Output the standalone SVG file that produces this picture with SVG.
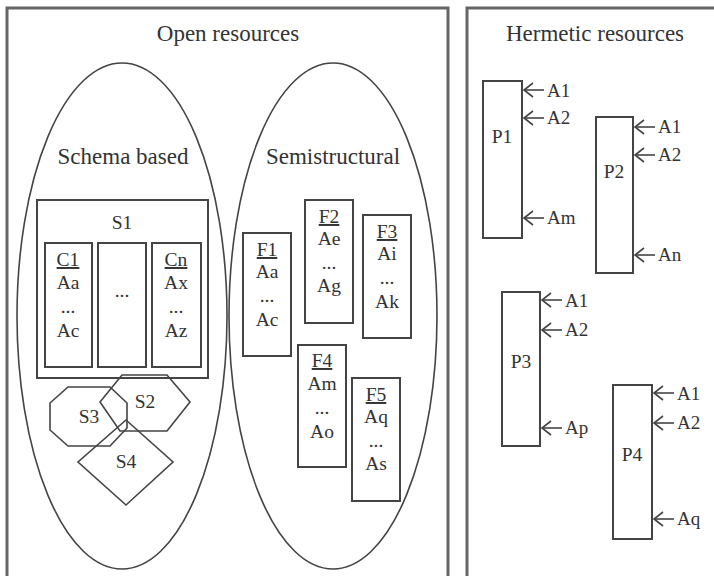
<svg xmlns="http://www.w3.org/2000/svg" width="714" height="576" viewBox="0 0 714 576">
  <defs>
    <style>
      text { font-family: "Liberation Serif", "Times New Roman", serif; fill: #333; text-anchor: middle; }
      .title { font-size: 23px; }
      .lbl { font-size: 19.5px; }
      .att { font-size: 19px; text-anchor: start; }
      .u { text-decoration: underline; }
      .frame { fill: none; stroke: #666; stroke-width: 3; }
      .ell { fill: none; stroke: #444; stroke-width: 1.6; }
      .box { fill: #fff; stroke: #444; stroke-width: 2; }
      .shape { fill: none; stroke: #444; stroke-width: 1.6; }
      .arr { fill: none; stroke: #444; stroke-width: 1.6; }
    </style>
    <!-- open chevron at the start of each attribute arrow -->
    <marker id="chev" viewBox="0 0 12 16" refX="1" refY="8" markerWidth="12" markerHeight="16" markerUnits="userSpaceOnUse" orient="auto">
      <path d="M10,1 L1,8 L10,15" fill="none" stroke="#444" stroke-width="1.6"/>
    </marker>
  </defs>

  <rect width="714" height="576" fill="#fff"/>

  <!-- Open resources panel -->
  <g id="open-resources">
    <path class="frame" d="M7,580 V8 H448 V580"/>
    <text class="title" x="228" y="41">Open resources</text>
  </g>

  <!-- Schema based region -->
  <g id="schema-based">
    <ellipse class="ell" cx="122" cy="316" rx="105" ry="253"/>
    <text class="title" x="123" y="164">Schema based</text>
  </g>

  <g id="S1">
    <rect class="box" x="37" y="200" width="171" height="178"/>
    <text class="lbl" x="122" y="229">S1</text>
  </g>
  <g id="C1">
    <rect class="box" x="45" y="243" width="47" height="124"/>
    <text class="lbl u" x="68" y="266">C1</text>
    <text class="lbl" x="68" y="289">Aa</text>
    <text class="lbl" x="68" y="313">...</text>
    <text class="lbl" x="68" y="337">Ac</text>
  </g>
  <g id="C-mid">
    <rect class="box" x="98" y="243" width="48" height="124"/>
    <text class="lbl" x="122" y="297">...</text>
  </g>
  <g id="Cn">
    <rect class="box" x="152" y="243" width="49" height="124"/>
    <text class="lbl u" x="176" y="266">Cn</text>
    <text class="lbl" x="176" y="289">Ax</text>
    <text class="lbl" x="176" y="313">...</text>
    <text class="lbl" x="176" y="337">Az</text>
  </g>

  <g id="S2">
    <polygon class="shape" points="122,375 167,375 190,402 167,431 120,431 100,402"/>
    <text class="lbl" x="145" y="408">S2</text>
  </g>
  <g id="S3">
    <polygon class="shape" points="68,387 110,387 127,403 127,428 110,446 68,446 50,430 50,403"/>
    <text class="lbl" x="89" y="423">S3</text>
  </g>
  <g id="S4">
    <polygon class="shape" points="126,420 173,462 126,505 78,462"/>
    <text class="lbl" x="126" y="468">S4</text>
  </g>

  <!-- Semistructural region -->
  <g id="semistructural">
    <ellipse class="ell" cx="333" cy="316" rx="104" ry="253"/>
    <text class="title" x="333" y="164">Semistructural</text>
  </g>

  <g id="F1">
    <rect class="box" x="243" y="233" width="48" height="123"/>
    <text class="lbl u" x="267" y="256">F1</text>
    <text class="lbl" x="267" y="278">Aa</text>
    <text class="lbl" x="267" y="302">...</text>
    <text class="lbl" x="267" y="326">Ac</text>
  </g>
  <g id="F2">
    <rect class="box" x="305" y="200" width="48" height="123"/>
    <text class="lbl u" x="329" y="223">F2</text>
    <text class="lbl" x="329" y="245">Ae</text>
    <text class="lbl" x="329" y="269">...</text>
    <text class="lbl" x="329" y="292">Ag</text>
  </g>
  <g id="F3">
    <rect class="box" x="363" y="215" width="48" height="123"/>
    <text class="lbl u" x="387" y="238">F3</text>
    <text class="lbl" x="387" y="260">Ai</text>
    <text class="lbl" x="387" y="284">...</text>
    <text class="lbl" x="387" y="308">Ak</text>
  </g>
  <g id="F4">
    <rect class="box" x="298" y="345" width="48" height="122"/>
    <text class="lbl u" x="322" y="367">F4</text>
    <text class="lbl" x="322" y="390">Am</text>
    <text class="lbl" x="322" y="414">...</text>
    <text class="lbl" x="322" y="438">Ao</text>
  </g>
  <g id="F5">
    <rect class="box" x="352" y="378" width="48" height="123"/>
    <text class="lbl u" x="376" y="401">F5</text>
    <text class="lbl" x="376" y="423">Aq</text>
    <text class="lbl" x="376" y="447">...</text>
    <text class="lbl" x="376" y="470">As</text>
  </g>

  <!-- Hermetic resources panel -->
  <g id="hermetic-resources">
    <path class="frame" d="M467,580 V8 H716"/>
    <text class="title" x="595" y="41">Hermetic resources</text>
  </g>

  <g id="P1">
    <rect class="box" x="483" y="81" width="39" height="157"/>
    <text class="lbl" x="502" y="143">P1</text>
    <text class="att" x="547" y="97">A1</text>
    <text class="att" x="547" y="124">A2</text>
    <text class="att" x="547" y="224">Am</text>
  </g>
  <g id="P2">
    <rect class="box" x="596" y="117" width="37" height="156"/>
    <text class="lbl" x="614" y="178">P2</text>
    <text class="att" x="658" y="133">A1</text>
    <text class="att" x="658" y="161">A2</text>
    <text class="att" x="658" y="261">An</text>
  </g>
  <g id="P3">
    <rect class="box" x="502" y="292" width="38" height="154"/>
    <text class="lbl" x="521" y="368">P3</text>
    <text class="att" x="565" y="307">A1</text>
    <text class="att" x="565" y="336">A2</text>
    <text class="att" x="565" y="434">Ap</text>
  </g>
  <g id="P4">
    <rect class="box" x="613" y="385" width="39" height="154"/>
    <text class="lbl" x="632" y="461">P4</text>
    <text class="att" x="677" y="400">A1</text>
    <text class="att" x="677" y="429">A2</text>
    <text class="att" x="677" y="525">Aq</text>
  </g>

  <!-- Attribute arrows pointing into the hermetic resources -->
  <g id="connectors">
    <path class="arr" marker-start="url(#chev)" d="M524,90 H544"/>
    <path class="arr" marker-start="url(#chev)" d="M524,118 H544"/>
    <path class="arr" marker-start="url(#chev)" d="M524,218 H544"/>
    <path class="arr" marker-start="url(#chev)" d="M635,127 H655"/>
    <path class="arr" marker-start="url(#chev)" d="M635,155 H655"/>
    <path class="arr" marker-start="url(#chev)" d="M635,255 H655"/>
    <path class="arr" marker-start="url(#chev)" d="M542,300 H562"/>
    <path class="arr" marker-start="url(#chev)" d="M542,330 H562"/>
    <path class="arr" marker-start="url(#chev)" d="M542,428 H562"/>
    <path class="arr" marker-start="url(#chev)" d="M654,393 H674"/>
    <path class="arr" marker-start="url(#chev)" d="M654,423 H674"/>
    <path class="arr" marker-start="url(#chev)" d="M654,519 H674"/>
  </g>
</svg>
